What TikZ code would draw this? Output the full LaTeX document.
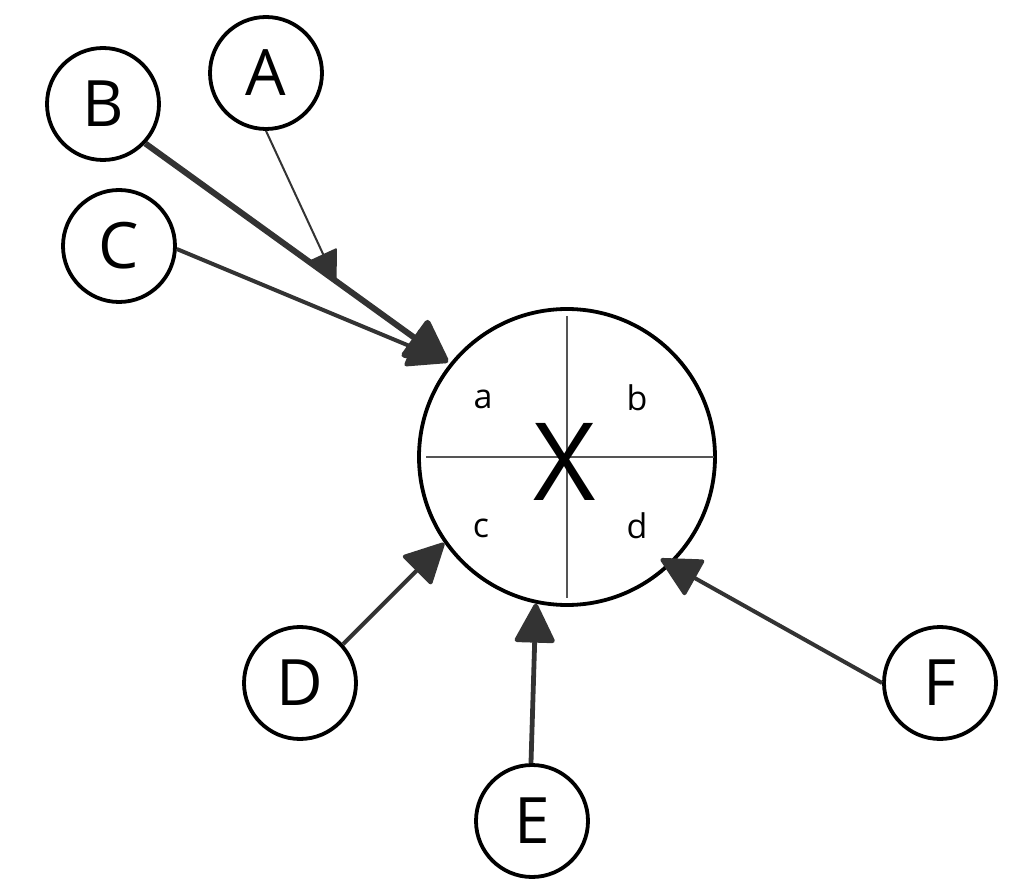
\documentclass[tikz,border=0pt]{standalone}
\usepackage{fontspec}
\setmainfont{Open Sans}
\usetikzlibrary{arrows.meta}
\definecolor{ln}{HTML}{333333}
\definecolor{cr}{HTML}{555555}
\begin{document}
\begin{tikzpicture}[x=0.5pt,y=-0.5pt,
  small/.style={circle,draw=black,line width=1.9pt,minimum size=56pt,inner sep=0pt,
    font=\fontsize{32}{36}\selectfont},
  big/.style={circle,draw=black,line width=1.9pt,minimum size=148pt,inner sep=0pt},
  quad/.style={font=\fontsize{17}{20}\selectfont,text=black},
  conn/.style={draw=ln,line width=2pt,-{Triangle[length=21pt,width=21pt,round]}}]
\useasboundingbox (0,0) rectangle (1024,893);
\node[big] (X) at (567,457) {};
\draw[cr,line width=1.3pt] (426,457) -- (714,457);
\draw[cr,line width=1.3pt] (567,316) -- (567,598);
\node[font=\fontsize{54}{60}\selectfont,text=black] (Xl) at (565,462) {X};
\node[quad] (qa) at (483,399) {a};
\node[quad] (qb) at (637,398) {b};
\node[quad] (qc) at (481,528) {c};
\node[quad] (qd) at (637,526) {d};
\node[small] (A) at (266,73) {A};
\node[small] (B) at (103,104) {B};
\node[small] (C) at (119,246) {C};
\node[small] (D) at (300,683) {D};
\node[small] (E) at (532,821) {E};
\node[small] (F) at (940,683) {F};
\coordinate (Aend) at (336,282);
\coordinate (BCend) at (448,362);
\draw[conn,line width=1pt,-{Triangle[length=16pt,width=15pt,round]}] (A.270) -- (Aend);
\draw[conn,line width=3pt,-{Triangle[length=23pt,width=24pt,round]}] (B.317) -- (BCend);
\draw[conn] (C.357) -- (BCend);
\draw[conn] (D.42) -- (X.215);
\draw[conn,line width=2.4pt] (E.91) -- (X.258);
\draw[conn,shorten >=-6pt] (F.180) -- (X.314);
\end{tikzpicture}
\end{document}
